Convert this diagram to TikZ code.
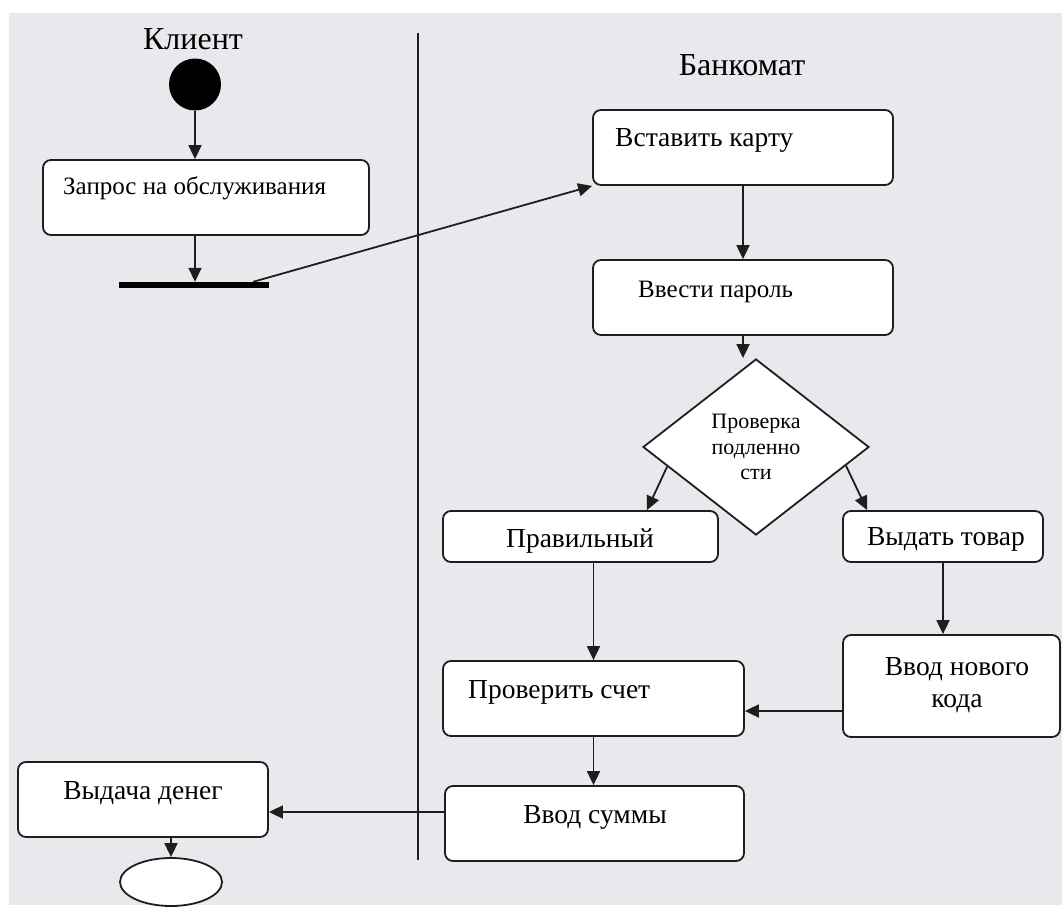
\documentclass[tikz,border=0pt]{standalone}
\usepackage{fontspec}
\setmainfont{Liberation Serif}
\usetikzlibrary{shapes.geometric,arrows.meta,calc}
\definecolor{bg}{RGB}{233,232,237}
\definecolor{ln}{RGB}{30,30,30}
\begin{document}
\begin{tikzpicture}[x=1pt,y=-1pt,
  box/.style={draw=ln, line width=1.8pt, rounded corners=8pt, fill=white, inner sep=0pt},
  arr/.style={draw=ln, line width=1.8pt, -{Triangle[length=14pt,width=13pt]}},
  txt/.style={font=\fontsize{27.5}{32}\selectfont, inner sep=0pt, text=black},
  txtc/.style={font=\fontsize{25}{30}\selectfont, inner sep=0pt, text=black},
  ttl/.style={font=\fontsize{32}{36}\selectfont, inner sep=0pt, text=black},
  small/.style={font=\fontsize{22}{25.5}\selectfont, align=center, text=black}]
\useasboundingbox (0,0) rectangle (1062,907);
\fill[white] (0,0) rectangle (1062,907);
\fill[bg] (9,13) rectangle (1062,905);
% swimlane divider
\coordinate (l1) at (418,33);
\coordinate (l2) at (418,860);
\draw[ln, line width=1.8pt] (l1) -- (l2);
% titles
\node[ttl, anchor=base] (tk) at (193,49) {Клиент};
\node[ttl, anchor=base] (tb) at (742,75) {Банкомат};
% client lane
\node[circle, fill=black, minimum size=52pt, inner sep=0pt] (c0) at (195,84.5) {};
\node[box, minimum width=326pt, minimum height=75pt] (b1) at (206,197.5) {};
\node[txtc, anchor=base west] (t1) at (63,194) {Запрос на обслуживания};
\node[fill=black, minimum width=150pt, minimum height=6pt, inner sep=0pt] (bar) at (194,285) {};
\node[box, minimum width=250pt, minimum height=75pt] (b9) at (143,799.5) {};
\node[txt, anchor=base] (t9) at (143,799) {Выдача денег};
\node[ellipse, draw=ln, line width=1.8pt, fill=white, minimum width=102pt, minimum height=48pt, inner sep=0pt] (e) at (171,882) {};
% ATM lane
\node[box, minimum width=300pt, minimum height=75pt] (b2) at (743,147.5) {};
\node[txt, anchor=base west] (t2) at (615,146) {Вставить карту};
\node[box, minimum width=300pt, minimum height=75pt] (b3) at (743,297.5) {};
\node[txtc, anchor=base west] (t3) at (638,297) {Ввести пароль};
\node[diamond, draw=ln, line width=1.8pt, fill=white, minimum width=226pt, minimum height=176pt, inner sep=0pt, small] (d) at (756,447) {Проверка\\подленно\\сти};
\node[box, minimum width=275pt, minimum height=51pt] (b4) at (580.5,536.5) {};
\node[txt, anchor=base] (t4) at (580,547) {Правильный};
\node[box, minimum width=200pt, minimum height=51pt] (b5) at (943,536.5) {};
\node[txt, anchor=base] (t5) at (946,545) {Выдать товар};
\node[box, minimum width=217pt, minimum height=102pt] (b6) at (951.5,686) {};
\node[txt, anchor=base] (t6a) at (957,675) {Ввод нового};
\node[txt, anchor=base] (t6b) at (957,707) {кода};
\node[box, minimum width=301pt, minimum height=75pt] (b7) at (593.5,698.5) {};
\node[txt, anchor=base west] (t7) at (468,698) {Проверить счет};
\node[box, minimum width=299pt, minimum height=75pt] (b8) at (594.5,823.5) {};
\node[txt, anchor=base] (t8) at (595,823) {Ввод суммы};
% connectors
\draw[arr] (c0.south) -- (c0.south |- b1.north);
\draw[arr] (c0.south |- b1.south) -- (c0.south |- bar.north);
\draw[arr] ($(bar.north east)+(-16,0)$) -- (b2.south west);
\draw[arr] (b2.south) -- (b3.north);
\draw[arr] (b3.south) -- (b3.south |- d.north);
\draw[arr] ($(d.west)!0.22!(d.south)$) -- ($(b4.north west)!0.74!(b4.north east)$);
\draw[arr] ($(d.east)!0.21!(d.south)$) -- ($(b5.north west)+(25,0)$);
\draw[arr] (b7.north |- b4.south) -- (b7.north);
\draw[arr] (b5.south) -- (b5.south |- b6.north);
\coordinate (q) at (843,711);
\draw[arr] (q) -- (b7.east |- q);
\draw[arr] (b7.south) -- (b7.south |- b8.north);
\coordinate (r) at (445,812);
\draw[arr] (r) -- (b9.east |- r);
\draw[arr] (e.north |- b9.south) -- (e.north);
\end{tikzpicture}
\end{document}
